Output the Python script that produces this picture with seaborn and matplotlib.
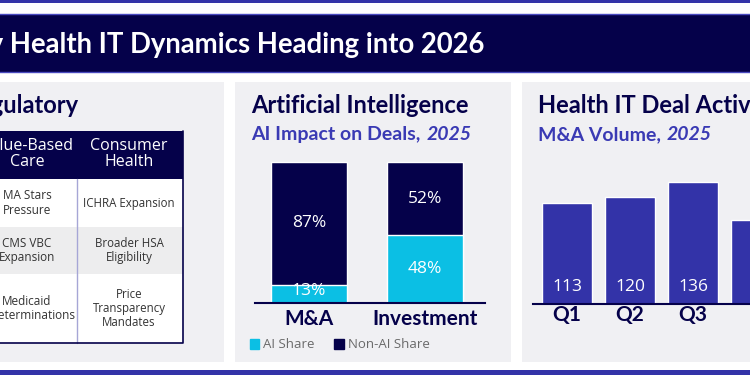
import numpy as np
import matplotlib.pyplot as plt
import seaborn as sns
from matplotlib.patches import Rectangle, Patch

# data
ai_categories = ["M&A", "Investment"]
ai_share = [13, 48]
non_ai_share = [87, 52]
ai_legend = ["AI Share", "Non-AI Share"]

quarters = ["Q1", "Q2", "Q3", "Q4"]
ma_volume = [113, 120, 136, 94]

table_header = ["Value-Based\nCare", "Consumer\nHealth"]
table_col1 = ["MA Stars\nPressure", "CMS VBC\nExpansion", "Medicaid\nRedeterminations"]
table_col2 = ["ICHRA Expansion", "Broader HSA\nEligibility", "Price\nTransparency\nMandates"]

title = "Key Health IT Dynamics Heading into 2026"

NAVY = "#05014a"
BLUE = "#3333a8"
SUB = "#3a3ab4"
CYAN = "#0bbfe4"
PANEL = "#f0f0f3"

sns.set_theme(style="white")
plt.rcParams["font.family"] = ["Lato", "DejaVu Sans"]

W, H = 750, 375
fig = plt.figure(figsize=(7.5, 3.75), dpi=100)
fig.patch.set_facecolor("white")

# background layer in pixel coordinates
bg = fig.add_axes([0, 0, 1, 1], zorder=0)
bg.set_xlim(0, W)
bg.set_ylim(H, 0)
bg.axis("off")

def rect(x0, y0, x1, y1, **kw):
    bg.add_patch(Rectangle((x0, y0), x1 - x0, y1 - y0, **kw))

rect(0, 0, W, 3, color=BLUE, lw=0)
rect(-2, 13.5, W + 2, 71.5, facecolor=NAVY, edgecolor="#4a4ac0", lw=1)
bg.text(484, 45, title, ha="right", va="center", color="white", fontsize=19.8, fontweight="bold")
rect(0, 370, W, H, color=BLUE, lw=0)

rect(-2, 82, 224, 362, color=PANEL, lw=0)
rect(235, 82, 511, 362, color=PANEL, lw=0)
rect(522, 82, W + 2, 362, color=PANEL, lw=0)

# section titles
bg.text(78, 113, "Regulatory", ha="right", va="baseline", color=NAVY, fontsize=17, fontweight="bold")
bg.text(251, 113, "Artificial Intelligence", ha="left", va="baseline", color=NAVY, fontsize=17, fontweight="bold")
bg.text(251, 140, "AI Impact on Deals, ", ha="left", va="baseline", color=SUB, fontsize=14, fontweight="bold")
bg.text(538, 113, "Health IT Deal Activity", ha="left", va="baseline", color=NAVY, fontsize=17, fontweight="bold")
bg.text(538, 140, "M&A Volume, ", ha="left", va="baseline", color=SUB, fontsize=14, fontweight="bold")
fig.canvas.draw()
r = fig.canvas.get_renderer()
for t in [bg.texts[-3], bg.texts[-1]]:
    bb = t.get_window_extent(r)
    x_end = bb.x1
    bg.text(x_end + 1, 140, "2025", ha="left", va="baseline", color=SUB, fontsize=14,
            fontweight="bold", fontstyle="italic")

# regulatory table
tbl_font = ["Open Sans", "DejaVu Sans"]
col_x = [27, 129]
col_div = 77
tbl_right = 183
rect(-2, 131, tbl_right, 179, color=NAVY, lw=0)
for cx, txt in zip(col_x, table_header):
    bg.text(cx, 154, txt, ha="center", va="center", color="white", fontsize=11.5,
            family=tbl_font, linespacing=1.0)
row_edges = [179, 227, 274, 343]
for i in range(len(table_col1)):
    fc = "white" if i % 2 == 0 else "#ededee"
    rect(-2, row_edges[i], tbl_right, row_edges[i + 1], color=fc, lw=0)
    ym = (row_edges[i] + row_edges[i + 1]) / 2
    bg.text(col_x[0], ym, table_col1[i], ha="center", va="center", color="#333333",
            fontsize=8.5, family=tbl_font, linespacing=1.15)
    bg.text(col_x[1], ym, table_col2[i], ha="center", va="center", color="#333333",
            fontsize=8.3, family=tbl_font, linespacing=1.15)
bg.plot([col_div, col_div], [179, 343], color="#a6a6d6", lw=1)
bg.plot([tbl_right, tbl_right, -2], [131, 343, 343], color=NAVY, lw=1.2)

def px_axes(x0, y0, x1, y1):
    return fig.add_axes([x0 / W, 1 - y1 / H, (x1 - x0) / W, (y1 - y0) / H], zorder=2)

# AI stacked bars
ax1 = px_axes(255, 155, 485, 303)
totals = [a + b for a, b in zip(ai_share, non_ai_share)]
sns.barplot(x=ai_categories, y=totals, color=NAVY, width=0.655, saturation=1, ax=ax1)
sns.barplot(x=ai_categories, y=ai_share, color=CYAN, width=0.655, saturation=1, ax=ax1)
ax1.set_xlim(-0.4655, 1.517)
ax1.set_ylim(0, 105)
for i, (a, b) in enumerate(zip(ai_share, non_ai_share)):
    ax1.annotate(f"{a}%", xy=(i, a / 2), xytext=(0, 2 if a < 20 else 0),
                 textcoords="offset points", ha="center", va="center", color="white",
                 fontsize=12.5, family=tbl_font)
    ax1.text(i, a + b / 2, f"{b}%", ha="center", va="center", color="white", fontsize=12.5,
             family=tbl_font)
ax1.legend(handles=[Patch(color=CYAN), Patch(color=NAVY)], labels=ai_legend,
           loc="center left", bbox_to_anchor=(238 / W, 1 - 345 / H),
           bbox_transform=fig.transFigure, ncol=2, frameon=False,
           handlelength=0.7, handleheight=0.7, handletextpad=0.3, columnspacing=1.5,
           labelcolor="#6a6a6a", prop={"family": tbl_font, "size": 9.5})

# M&A volume bars
ax2 = px_axes(533, 155, W, 304)
sns.barplot(x=quarters, y=ma_volume, color=BLUE, width=0.794, saturation=1, ax=ax2)
ax2.set_xlim(-0.54, 2.905)
ax2.set_ylim(0, 149 / 0.894)
for i, v in enumerate(ma_volume):
    ax2.annotate(str(v), xy=(i, 0), xytext=(0, 9.5), textcoords="offset points",
                 ha="center", va="baseline", color="white", fontsize=12.5, family=tbl_font)

for ax in (ax1, ax2):
    ax.set_facecolor("none")
    for s in ["top", "right", "left"]:
        ax.spines[s].set_visible(False)
    ax.spines["bottom"].set_color(NAVY)
    ax.spines["bottom"].set_linewidth(1.5)
    ax.set_yticks([])
    ax.set_ylabel("")
    ax.tick_params(axis="x", length=0, labelsize=15, labelcolor=NAVY)
    for lbl in ax.get_xticklabels():
        lbl.set_fontweight("bold")
ax1.tick_params(axis="x", pad=4)
ax2.tick_params(axis="x", pad=1)

fig.savefig("out.png", dpi=100)
